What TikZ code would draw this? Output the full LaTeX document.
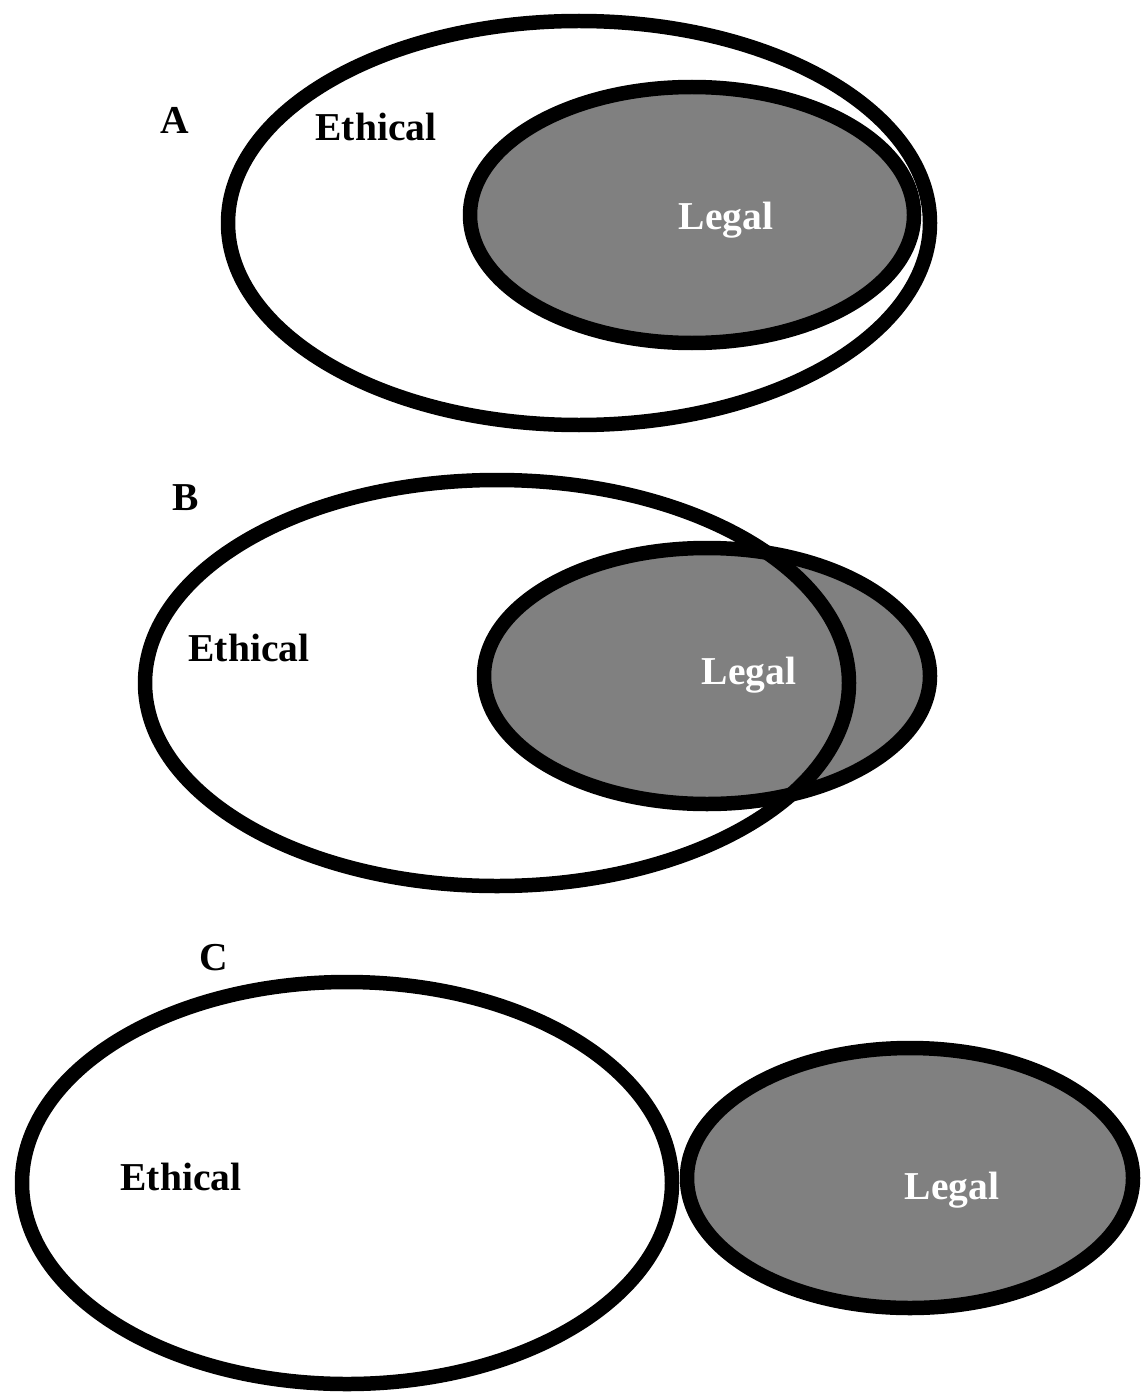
\documentclass[tikz,border=0pt]{standalone}
\usepackage{fontspec}
\setmainfont{Liberation Serif}
\begin{document}
\begin{tikzpicture}[x=0.02cm,y=-0.02cm,
  ring/.style={draw=black,line width=0.29cm},
  lab/.style={font=\fontsize{22.5}{26}\selectfont\bfseries,inner sep=0pt},
  wlab/.style={lab,text=white}]
\useasboundingbox (0,0) rectangle (1140,1392);
\fill[white] (0,0) rectangle (1140,1392);
\definecolor{legalgray}{RGB}{128,128,128}
% Panel A
\fill[white] (579,223) ellipse [x radius=351,y radius=202];
\fill[legalgray] (692,215) ellipse [x radius=222,y radius=128];
\draw[ring] (579,223) ellipse [x radius=351,y radius=202];
\draw[ring] (692,215) ellipse [x radius=222,y radius=128];
\node[lab] (la) at (175,120) {A};
\node[lab] (ea) at (376,127) {Ethical};
\node[wlab] (ga) at (726,220) {Legal};
% Panel B
\fill[white] (497,683) ellipse [x radius=352,y radius=203];
\fill[legalgray] (707,676) ellipse [x radius=223,y radius=128];
\draw[ring] (497,683) ellipse [x radius=352,y radius=203];
\draw[ring] (707,676) ellipse [x radius=223,y radius=128];
\node[lab] (lb) at (186,498) {B};
\node[lab] (eb) at (249,648) {Ethical};
\node[wlab] (gb) at (749,675) {Legal};
% Panel C
\fill[white] (347,1183) ellipse [x radius=325,y radius=201];
\fill[legalgray] (910,1178) ellipse [x radius=223,y radius=130];
\draw[ring] (347,1183) ellipse [x radius=325,y radius=201];
\draw[ring] (910,1178) ellipse [x radius=223,y radius=130];
\node[lab] (lc) at (214,958) {C};
\node[lab] (ec) at (181,1177) {Ethical};
\node[wlab] (gc) at (952,1190) {Legal};
\end{tikzpicture}
\end{document}
